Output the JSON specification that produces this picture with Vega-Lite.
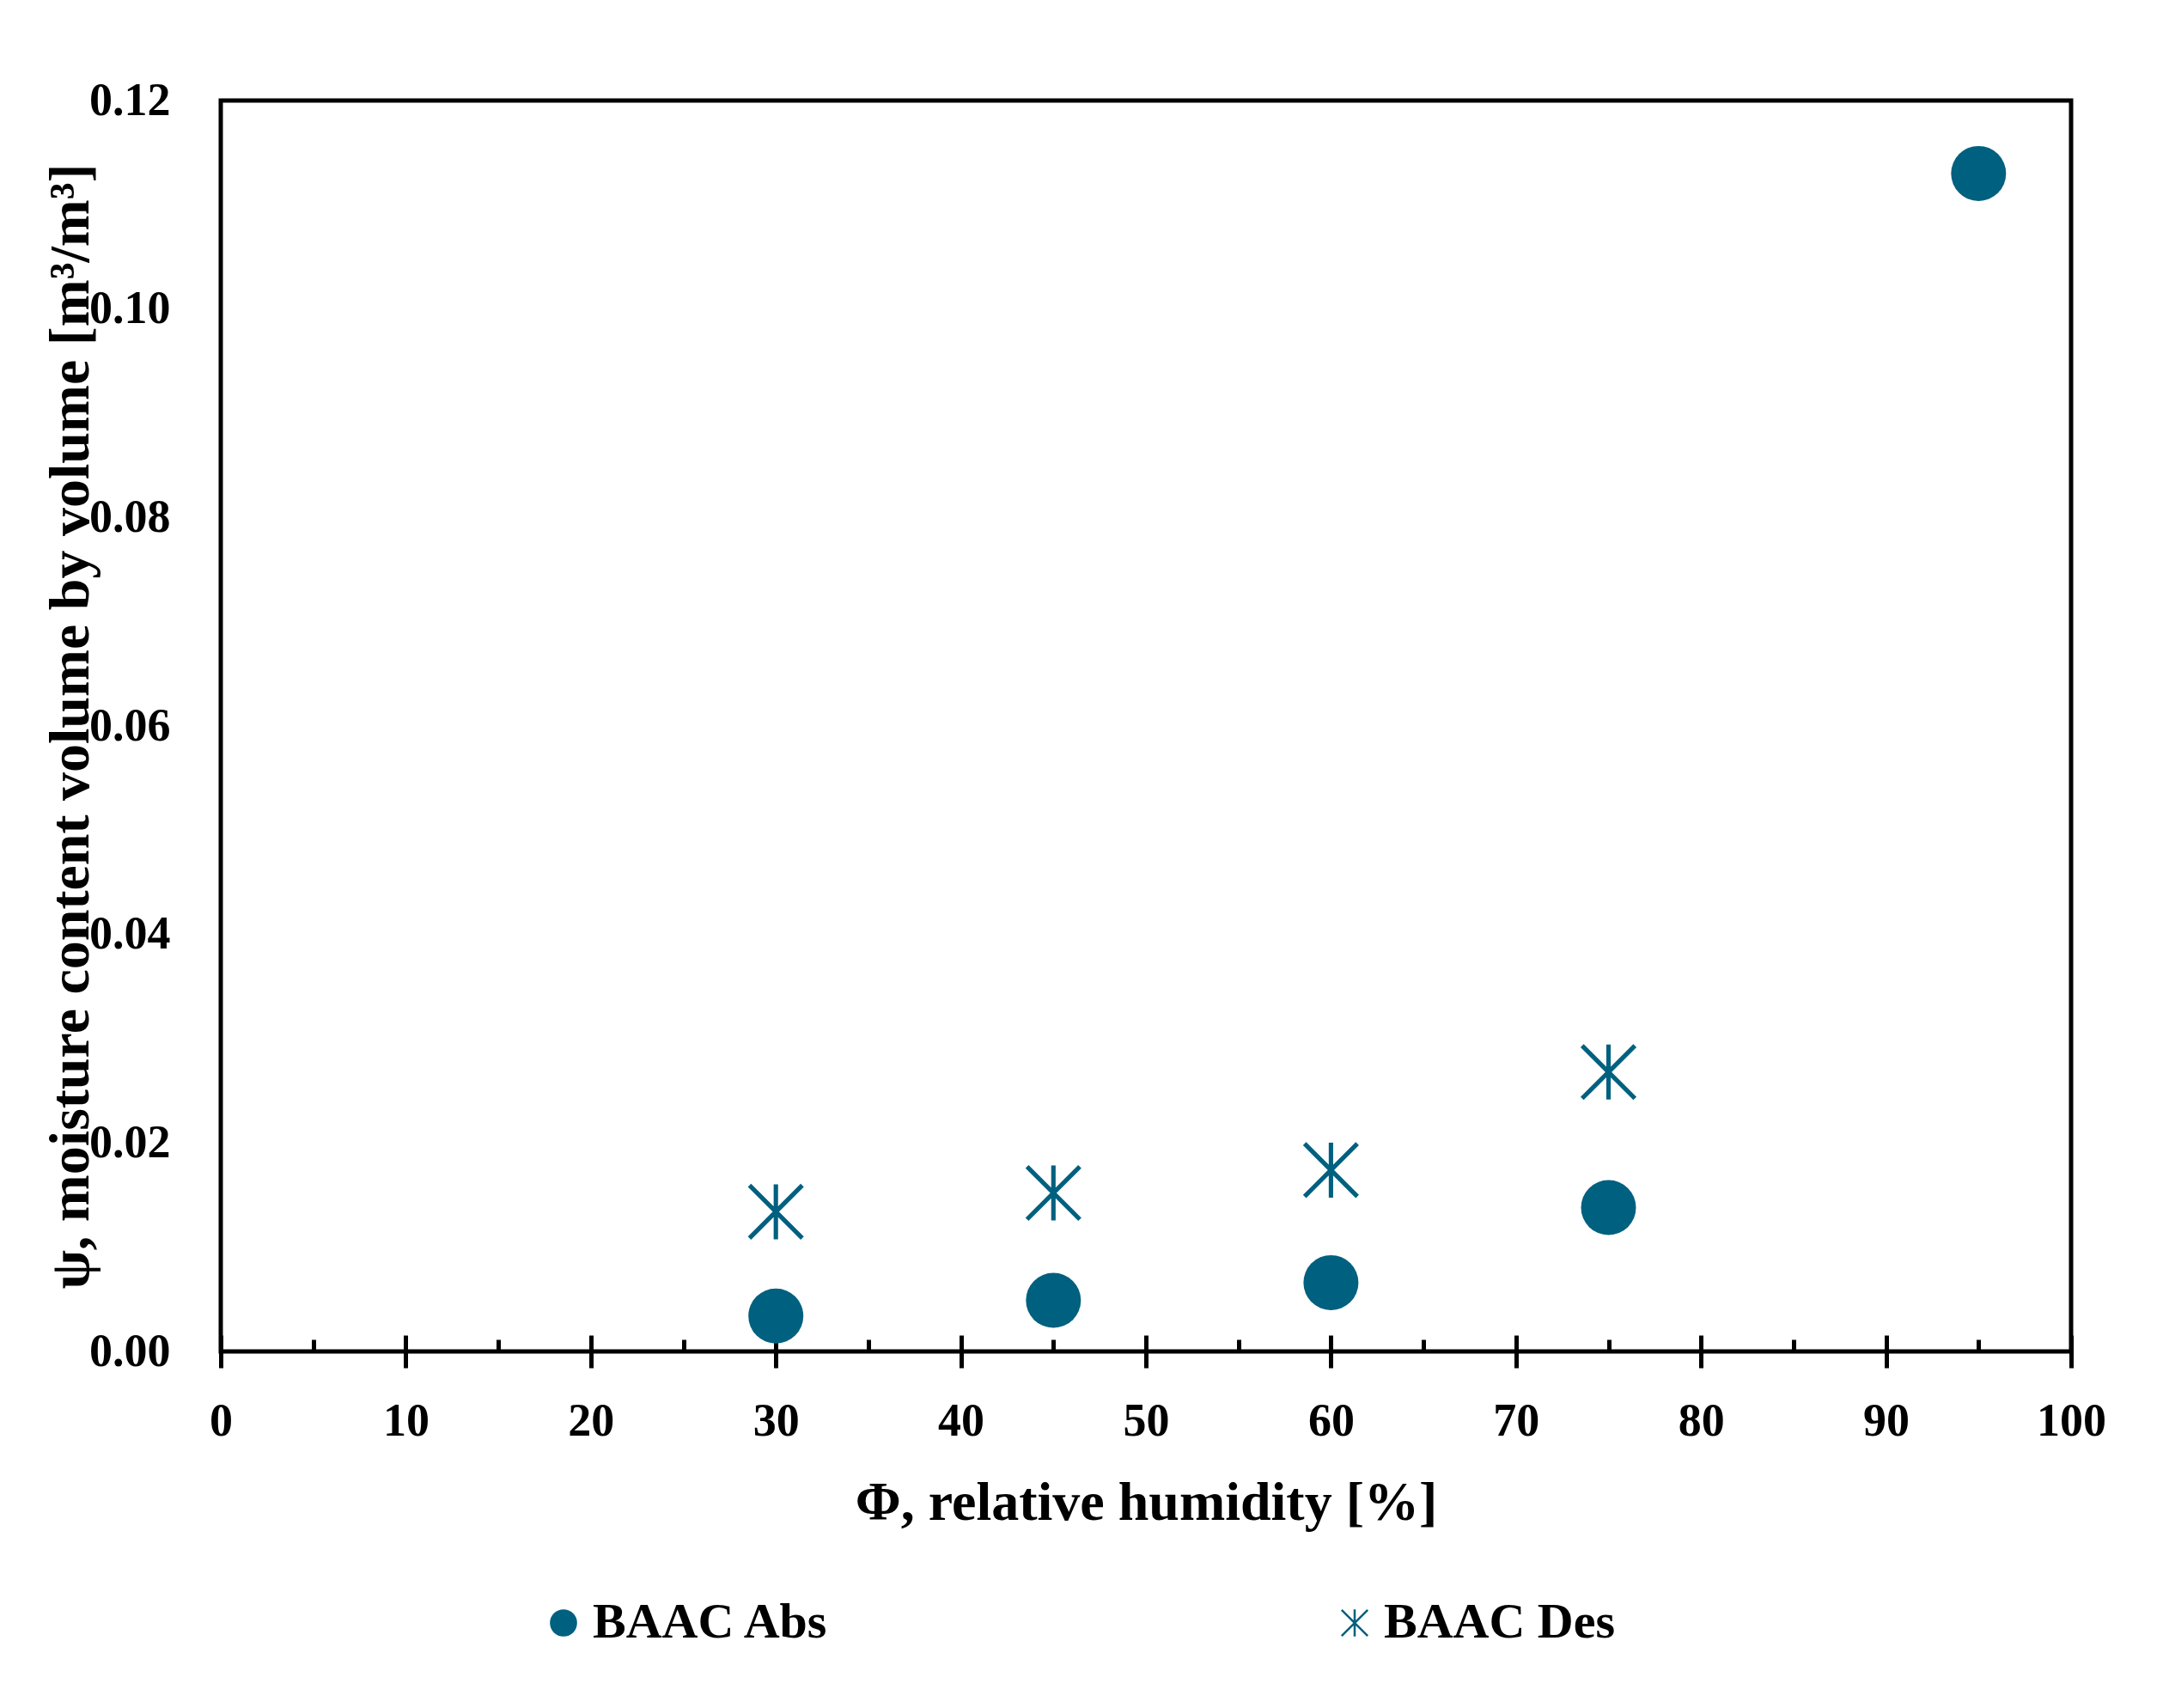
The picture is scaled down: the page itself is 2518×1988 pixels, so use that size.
{
  "$schema": "https://vega.github.io/schema/vega-lite/v6.json",
  "autosize": {"type": "none"},
  "width": 2154,
  "height": 1456,
  "padding": {"left": 257, "top": 117, "right": 107, "bottom": 415},
  "background": "white",
  "config": {
    "font": "Liberation Serif",
    "view": {"stroke": "black", "strokeWidth": 5},
    "axis": {"grid": false, "domain": false, "labelColor": "black", "titleColor": "black", "labelFlush": false}
  },
  "data": {
    "values": [
      {"rh": 30, "psi": 0.0034, "series": "BAAC Abs"},
      {"rh": 45, "psi": 0.0049, "series": "BAAC Abs"},
      {"rh": 60, "psi": 0.0066, "series": "BAAC Abs"},
      {"rh": 75, "psi": 0.0138, "series": "BAAC Abs"},
      {"rh": 95, "psi": 0.113, "series": "BAAC Abs"},
      {"rh": 30, "psi": 0.0134, "series": "BAAC Des"},
      {"rh": 45, "psi": 0.0152, "series": "BAAC Des"},
      {"rh": 60, "psi": 0.0174, "series": "BAAC Des"},
      {"rh": 75, "psi": 0.0268, "series": "BAAC Des"}
    ]
  },
  "encoding": {
    "y": {
      "field": "psi",
      "type": "quantitative",
      "scale": {"domain": [0, 0.12], "nice": false},
      "axis": {
        "values": [0, 0.02, 0.04, 0.06, 0.08, 0.1, 0.12],
        "format": ".2f",
        "ticks": false,
        "tickSize": 0,
        "labelPadding": 59,
        "labelFontSize": 54,
        "labelFontWeight": "bold",
        "title": "ψ, moisture content volume by volume [m³/m³]",
        "titleFontSize": 66,
        "titleFontWeight": "bold",
        "titleBaseline": "alphabetic",
        "titleX": -155,
        "titleY": 728,
        "titleAngle": -90
      }
    },
    "shape": {
      "field": "series",
      "type": "nominal",
      "scale": {
        "domain": ["BAAC Abs", "BAAC Des"],
        "range": [
          "circle",
          "M-0.08,-1L0.08,-1L0.08,1L-0.08,1ZM-0.903,-1.017L1.017,0.903L0.903,1.017L-1.017,-0.903ZM0.903,-1.017L1.017,-0.903L-0.903,1.017L-1.017,0.903Z"
        ]
      },
      "legend": {
        "title": null,
        "orient": "none",
        "legendX": 370,
        "legendY": 1743,
        "direction": "horizontal",
        "columns": 2,
        "columnPadding": 582,
        "symbolSize": 1000,
        "symbolStrokeWidth": 4,
        "symbolFillColor": "#00607f",
        "symbolStrokeColor": "#00607f",
        "labelFontSize": 58,
        "labelFontWeight": "bold",
        "labelColor": "black",
        "labelOffset": 5,
        "labelLimit": 600,
        "encode": {
          "symbols": {
            "update": {
              "stroke": {"value": "#00607f"},
              "strokeWidth": {"value": 4},
              "fill": {"value": "#00607f"},
              "opacity": {"value": 1}
            }
          }
        }
      }
    }
  },
  "layer": [
    {
      "transform": [{"filter": "datum.series === 'BAAC Abs'"}],
      "mark": {"type": "point", "filled": true, "opacity": 1, "size": 4096, "color": "#00607f"},
      "encoding": {
        "x": {
          "field": "rh",
          "type": "quantitative",
          "scale": {"domain": [0, 100], "nice": false},
          "axis": {
            "orient": "bottom",
            "values": [0, 10, 20, 30, 40, 50, 60, 70, 80, 90, 100],
            "offset": -19,
            "tickSize": 38,
            "tickWidth": 5,
            "tickColor": "black",
            "labelPadding": 35,
            "labelFontSize": 54,
            "labelFontWeight": "bold",
            "title": "Φ, relative humidity [%]",
            "titleFontSize": 64,
            "titleFontWeight": "bold",
            "titleBaseline": "alphabetic",
            "titleY": 214
          }
        }
      }
    },
    {
      "transform": [{"filter": "datum.series === 'BAAC Des'"}],
      "mark": {"type": "point", "filled": true, "opacity": 1, "size": 4096, "color": "#00607f"},
      "encoding": {
        "x": {
          "field": "rh",
          "type": "quantitative",
          "scale": {"domain": [0, 100], "nice": false},
          "axis": {
            "orient": "bottom",
            "values": [5, 15, 25, 35, 45, 55, 65, 75, 85, 95],
            "tickSize": -14,
            "tickWidth": 5,
            "tickColor": "black",
            "labels": false,
            "title": null
          }
        }
      }
    }
  ],
  "resolve": {"axis": {"x": "independent"}}
}
